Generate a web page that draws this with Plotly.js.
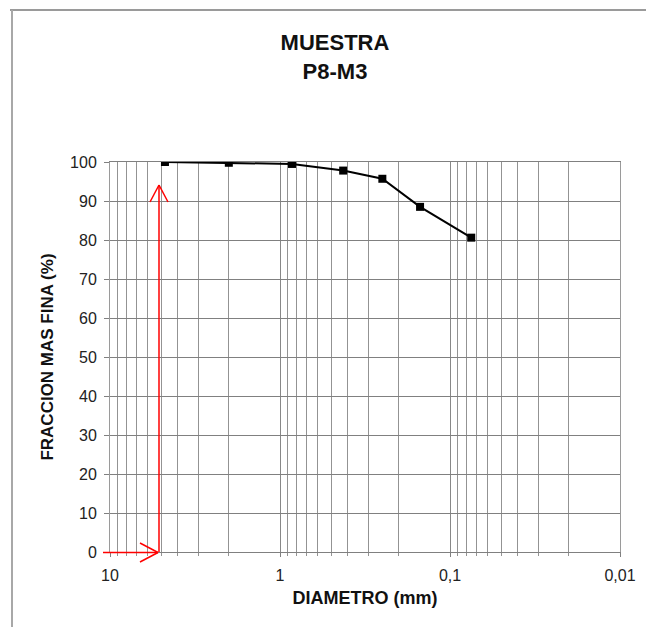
<!DOCTYPE html>
<html>
<head>
<meta charset="utf-8">
<script src="https://cdn.plot.ly/plotly-3.0.1.min.js"></script>
<style>html,body{margin:0;padding:0;background:#fff;}#chart{width:646px;height:627px;}</style>
</head>
<body>
<div id="chart"></div>
<script>
// Data
var diametro = [4.75, 2.0, 0.85, 0.425, 0.25, 0.15, 0.075];      // mm
var fraccionFina = [100, 99.8, 99.5, 97.8, 95.7, 88.5, 80.6];    // %

// Axis tick labels
var xTickVals = [10, 1, 0.1, 0.01];
var xTickText = ["10", "1", "0,1", "0,01"];
var xMinorVals = [9, 8, 7, 6, 5, 4, 3, 2,
                  0.9, 0.8, 0.7, 0.6, 0.5, 0.4, 0.3, 0.2,
                  0.09, 0.08, 0.07, 0.06, 0.05, 0.04, 0.03, 0.02];
var yTickVals = [0, 10, 20, 30, 40, 50, 60, 70, 80, 90, 100];

var FONT = "Liberation Sans, Arial, sans-serif";

var trace = {
  x: diametro,
  y: fraccionFina,
  type: "scatter",
  mode: "lines+markers",
  line: {color: "#000000", width: 2},
  marker: {symbol: "square", size: 8, color: "#000000"},
  hoverinfo: "x+y",
  showlegend: false
};

// plot area pixel geometry helpers (for decoration shapes)
var L = 110, R = 26, T = 162, B = 75, W = 646, H = 627;
var PW = W - L - R, PH = H - T - B;
function px(x) { return (x - L) / PW; }
function py(y) { return (H - B - y) / PH; }

var red = {color: "#ff0000", width: 1.5};
var shapes = [
  // frame of the chart
  {type: "line", xref: "paper", yref: "paper", x0: px(10), x1: px(646), y0: py(10), y1: py(10), line: {color: "#9a9a9a", width: 2}},
  {type: "line", xref: "paper", yref: "paper", x0: px(12), x1: px(12), y0: py(10), y1: py(627), line: {color: "#a8a8a8", width: 2}},
  // vertical red arrow
  {type: "line", xref: "paper", yref: "paper", x0: px(159), x1: px(159), y0: py(552), y1: py(185), line: red},
  {type: "line", xref: "paper", yref: "paper", x0: px(150), x1: px(159), y0: py(202), y1: py(185), line: red},
  {type: "line", xref: "paper", yref: "paper", x0: px(168), x1: px(159), y0: py(202), y1: py(185), line: red},
  // horizontal red arrow
  {type: "line", xref: "paper", yref: "paper", x0: px(103), x1: px(158), y0: py(552.5), y1: py(552.5), line: red},
  {type: "line", xref: "paper", yref: "paper", x0: px(140), x1: px(158), y0: py(543), y1: py(552.5), line: red},
  {type: "line", xref: "paper", yref: "paper", x0: px(140), x1: px(158), y0: py(562), y1: py(552.5), line: red}
];

var layout = {
  width: W,
  height: H,
  margin: {l: L, r: R, t: T, b: B, pad: 0},
  paper_bgcolor: "#ffffff",
  plot_bgcolor: "#ffffff",
  font: {family: FONT, color: "#1a1a1a"},
  title: {
    text: "<b>MUESTRA<br>P8-M3</b>",
    font: {family: FONT, size: 22, color: "#111111"},
    x: 335 / W,
    xref: "container",
    xanchor: "center",
    y: 1 - 50 / H,
    yref: "container",
    yanchor: "middle"
  },
  xaxis: {
    type: "log",
    range: [1, -2],
    tickmode: "array",
    tickvals: xTickVals,
    ticktext: xTickText,
    ticks: "outside",
    ticklen: 4,
    tickcolor: "#808080",
    tickfont: {family: FONT, size: 16, color: "#222222"},
    ticklabelstandoff: 5,
    showgrid: true,
    gridcolor: "#888888",
    gridwidth: 1,
    minor: {
      tickmode: "array",
      tickvals: xMinorVals,
      showgrid: true,
      gridcolor: "#939393",
      gridwidth: 1,
      ticks: "outside",
      ticklen: 3,
      tickcolor: "#939393"
    },
    showline: true,
    linecolor: "#808080",
    linewidth: 1,
    mirror: true,
    zeroline: false,
    fixedrange: true,
    title: {
      text: "<b>DIAMETRO (mm)</b>",
      font: {family: FONT, size: 18, color: "#111111"},
      standoff: 8
    }
  },
  yaxis: {
    range: [0, 100],
    tickmode: "array",
    tickvals: yTickVals,
    ticks: "outside",
    ticklen: 5,
    tickcolor: "#808080",
    tickfont: {family: FONT, size: 16, color: "#222222"},
    ticklabelstandoff: 4,
    showgrid: true,
    gridcolor: "#808080",
    gridwidth: 1,
    showline: true,
    linecolor: "#9a9a9a",
    linewidth: 1,
    mirror: true,
    zeroline: false,
    fixedrange: true,
    title: {
      text: "<b>FRACCION MAS FINA (%)</b>",
      font: {family: FONT, size: 17, color: "#111111"},
      standoff: 12
    }
  },
  shapes: shapes
};

Plotly.newPlot("chart", [trace], layout, {displayModeBar: false, staticPlot: true});
</script>
</body>
</html>
